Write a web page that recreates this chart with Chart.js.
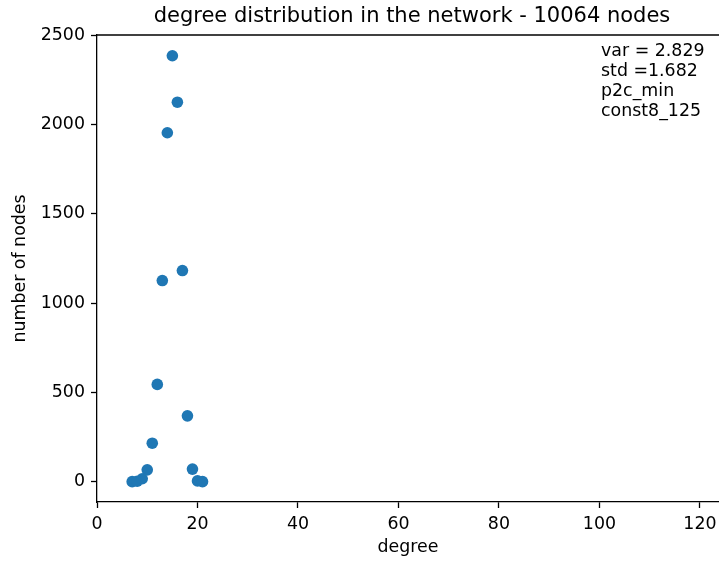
<!DOCTYPE html>
<html>
<head>
<meta charset="utf-8">
<script src="https://cdn.jsdelivr.net/npm/chart.js@4"></script>
<style>
  html, body { margin: 0; padding: 0; background: #fff; }
  #wrap { width: 719px; height: 562px; }
</style>
</head>
<body>
<div id="wrap"><canvas id="myChart"></canvas></div>
<script>
const degrees = [7, 8, 9, 10, 11, 12, 13, 14, 15, 16, 17, 18, 19, 20, 21];
const nodeCounts = [1, 3, 17, 67, 216, 545, 1126, 1953, 2384, 2124, 1182, 369, 71, 5, 1];
const xTicks = [0, 20, 40, 60, 80, 100, 120];
const yTicks = [0, 500, 1000, 1500, 2000, 2500];
const notes = ['var = 2.829', 'std =1.682', 'p2c_min', 'const8_125'];
const titleText = 'degree distribution in the network - 10064 nodes';

const FONT = 'DejaVu Sans';
const ctx = document.getElementById('myChart');

const points = degrees.map((d, i) => ({ x: d, y: nodeCounts[i] }));

// title, top spine and the text box are drawn by hand
const extras = {
    id: 'extras',
    afterDraw(chart) {
        const c = chart.ctx;
        const area = chart.chartArea;
        c.save();
        c.strokeStyle = '#000';
        c.lineWidth = 1.3;
        c.beginPath();
        c.moveTo(area.left, area.top);
        c.lineTo(area.right, area.top);
        c.stroke();

        c.fillStyle = '#000';
        c.font = '21px "' + FONT + '"';
        c.textAlign = 'center';
        c.textBaseline = 'alphabetic';
        c.fillText(titleText, 412, 22);

        c.font = '17.4px "' + FONT + '"';
        c.textAlign = 'left';
        c.textBaseline = 'middle';
        notes.forEach((t, i) => c.fillText(t, 601, 51 + i * 20.3));
        c.restore();
    }
};

const tickCommon = {
    color: '#000',
    font: { family: FONT, size: 17.4 },
    padding: 6,
    callback: v => String(v)
};

const config = {
    type: 'scatter',
    data: {
        datasets: [{
            data: points,
            pointRadius: 5.8,
            pointHoverRadius: 5.8,
            backgroundColor: '#1f77b4',
            borderColor: '#1f77b4',
            borderWidth: 0
        }]
    },
    options: {
        responsive: true,
        maintainAspectRatio: false,
        animation: false,
        layout: { autoPadding: false, padding: { top: 35, right: 0, bottom: 0, left: 0 } },
        scales: {
            x: {
                type: 'linear',
                min: 0,
                max: 123.8,
                afterBuildTicks: s => { s.ticks = xTicks.map(v => ({ value: v })); },
                afterFit: s => { s.height = 60; s.paddingLeft = 0; s.paddingRight = 0; },
                ticks: tickCommon,
                grid: { drawOnChartArea: false, drawTicks: true, tickLength: 6, tickColor: '#000', tickWidth: 1.3 },
                border: { display: true, color: '#000', width: 1.3 },
                title: {
                    display: true,
                    text: 'degree',
                    color: '#000',
                    font: { family: FONT, size: 17.4 },
                    padding: { top: 0, bottom: 4 }
                }
            },
            y: {
                type: 'linear',
                min: -113,
                max: 2500,
                afterBuildTicks: s => { s.ticks = yTicks.map(v => ({ value: v })); },
                afterFit: s => { s.width = 97; s.paddingTop = 0; s.paddingBottom = 0; },
                ticks: tickCommon,
                grid: { drawOnChartArea: false, drawTicks: true, tickLength: 6, tickColor: '#000', tickWidth: 1.3 },
                border: { display: true, color: '#000', width: 1.3 },
                title: {
                    display: true,
                    text: 'number of nodes',
                    color: '#000',
                    font: { family: FONT, size: 17.4 },
                    padding: { top: 10, bottom: 0 }
                }
            }
        },
        plugins: {
            legend: { display: false },
            tooltip: { enabled: false }
        }
    },
    plugins: [extras]
};

const myChart = new Chart(ctx, config);
</script>
</body>
</html>
